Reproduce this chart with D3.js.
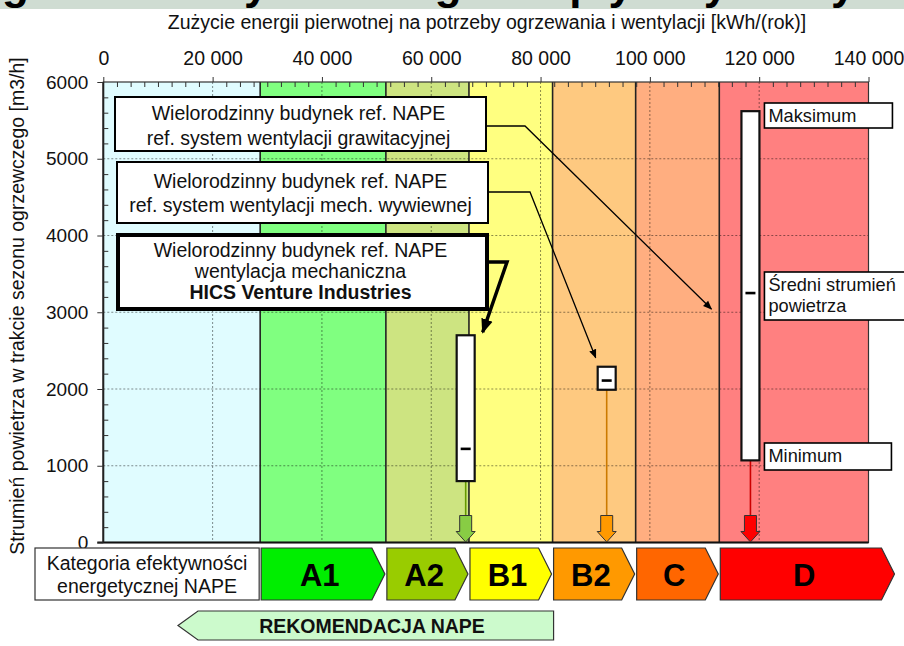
<!DOCTYPE html>
<html>
<head>
<meta charset="utf-8">
<script src="https://cdn.jsdelivr.net/npm/d3@7"></script>
<style>
  body { margin: 0; background: #fff; }
  svg { display: block; font-family: "Liberation Sans", Arial, sans-serif; }
</style>
</head>
<body>
<div class="canvas"></div>
<script>
/////////////////////////////////
//** DATA **//

// energy classes (NAPE) and their upper limits on the kWh/rok axis
const classes = ['A1', 'A2', 'B1', 'B2', 'C', 'D'];
const classLimits = [0, 28700, 51700, 66900, 82200, 97400, 112700, 140000];
const classBand = ['#e0fcff', '#80ff80', '#cde481', '#ffff80', '#fec980', '#ffae80', '#ff8080'];
const classFill = ['#00ee00', '#99cc00', '#ffff00', '#ff9900', '#ff6600', '#ff0000'];

// buildings / ventilation systems
const systems = ['HICS', 'mech. wywiewna', 'grawitacyjna'];
const energy = [66300, 92100, 118400];
const flowMin = [800, 1990, 1070];
const flowMax = [2700, 2290, 5620];
const flowMean = [1220, 2110, 3250];
const stemColor = ['#669900', '#cc7a00', '#cc0000'];
const arrowColor = ['#88cc44', '#ff9900', '#ff0000'];

// axis ticks
const xTicks = [0, 20000, 40000, 60000, 80000, 100000, 120000, 140000];
const yTicks = [0, 1000, 2000, 3000, 4000, 5000, 6000];

/////////////////////////////////
//** SVG **//

const dims = { width: 904, height: 646 };
const plot = { left: 103.3, right: 868.5, top: 82, bottom: 542.5 };
const fs = 19.5; // base font size

const svg = d3.select('.canvas')
  .append('svg')
  .attr('width', dims.width)
  .attr('height', dims.height);

const defs = svg.append('defs');
['thin', 'thick'].forEach(k => {
  defs.append('marker')
    .attr('id', 'head-' + k)
    .attr('viewBox', '0 0 10 10')
    .attr('refX', 9).attr('refY', 5)
    .attr('markerWidth', k == 'thin' ? 7 : 4.2)
    .attr('markerHeight', k == 'thin' ? 7 : 4.2)
    .attr('markerUnits', 'strokeWidth')
    .attr('orient', 'auto')
    .append('path')
    .attr('d', 'M0,1 L10,5 L0,9 Z')
    .attr('fill', '#000');
});

const x = d3.scaleLinear().domain([0, 140000]).range([plot.left, plot.right]);
const y = d3.scaleLinear().domain([0, 6000]).range([plot.bottom, plot.top]);

const fmt = d3.formatLocale({ decimal: ',', thousands: ' ', grouping: [3], currency: ['', ''] }).format(',');

// top banner (cut-off slide title)
svg.append('rect')
  .attr('x', 0).attr('y', 0).attr('width', dims.width).attr('height', 9)
  .attr('fill', '#cfdcd2');
defs.append('clipPath').attr('id', 'banner')
  .append('rect').attr('x', 0).attr('y', 0).attr('width', dims.width).attr('height', 9);
svg.append('text')
  .attr('clip-path', 'url(#banner)')
  .attr('x', 2).attr('y', -1)
  .attr('font-size', 44).attr('font-weight', 'bold')
  .text('gazowe zużycie energii – wpływ systemy wentylacji');

// colour bands
const bands = svg.append('g');
bands.selectAll('rect')
  .data(classBand)
  .enter().append('rect')
  .attr('x', (d, i) => x(classLimits[i]))
  .attr('y', y(6000))
  .attr('width', (d, i) => x(classLimits[i + 1]) - x(classLimits[i]))
  .attr('height', y(0) - y(6000))
  .attr('fill', d => d);

// dotted grid
const grid = svg.append('g')
  .attr('stroke', '#000').attr('stroke-opacity', 0.45)
  .attr('stroke-width', 1).attr('stroke-dasharray', '2,2');
grid.selectAll('.gx')
  .data(xTicks.slice(1, -1))
  .enter().append('line')
  .attr('x1', d => x(d)).attr('x2', d => x(d))
  .attr('y1', y(6000)).attr('y2', y(0));
grid.selectAll('.gy')
  .data(yTicks.slice(1, -1))
  .enter().append('line')
  .attr('x1', x(0)).attr('x2', x(140000))
  .attr('y1', d => y(d)).attr('y2', d => y(d));

// class boundaries
svg.append('g')
  .selectAll('line')
  .data(classLimits.slice(1, -1))
  .enter().append('line')
  .attr('x1', d => x(d)).attr('x2', d => x(d))
  .attr('y1', y(6000)).attr('y2', y(0))
  .attr('stroke', '#222').attr('stroke-width', 1.6);

// frame
svg.append('rect')
  .attr('x', x(0)).attr('y', y(6000))
  .attr('width', x(140000) - x(0)).attr('height', y(0) - y(6000))
  .attr('fill', 'none').attr('stroke', '#333').attr('stroke-width', 1.2);
svg.append('line')
  .attr('x1', x(0) - 6).attr('x2', x(140000))
  .attr('y1', y(0)).attr('y2', y(0))
  .attr('stroke', '#111').attr('stroke-width', 2.2);
svg.append('line')
  .attr('x1', x(0)).attr('x2', x(0))
  .attr('y1', y(6000)).attr('y2', y(0))
  .attr('stroke', '#222').attr('stroke-width', 2);

/////////////////////////////////
//** AXES **//

const styleAxis = g => {
  g.select('.domain').remove();
  g.selectAll('line').attr('stroke', '#333');
  g.selectAll('text').attr('font-size', fs).attr('fill', '#111')
    .attr('font-family', '"Liberation Sans", Arial, sans-serif');
};

svg.append('g')
  .attr('transform', `translate(0, ${plot.top})`)
  .call(d3.axisTop(x).tickValues(xTicks).tickSize(5).tickPadding(12).tickFormat(fmt))
  .call(styleAxis);
svg.append('g')
  .attr('transform', `translate(0, ${plot.top})`)
  .call(d3.axisTop(x).tickValues(d3.range(0, 140001, 2500).filter(v => v % 20000)).tickSize(-5).tickFormat(''))
  .call(styleAxis);

svg.append('g')
  .attr('transform', `translate(${plot.left}, 0)`)
  .call(d3.axisLeft(y).tickValues(yTicks).tickSize(6).tickPadding(9).tickFormat(d3.format('d')))
  .call(styleAxis)
  .call(g => g.selectAll('text').attr('font-size', 19));
svg.append('g')
  .attr('transform', `translate(${plot.left}, 0)`)
  .call(d3.axisLeft(y).tickValues(d3.range(0, 6001, 200).filter(v => v % 1000)).tickSize(-5).tickFormat(''))
  .call(styleAxis);

// axis titles
svg.append('text')
  .attr('x', 487).attr('y', 29)
  .attr('text-anchor', 'middle').attr('font-size', fs).attr('fill', '#111')
  .text('Zużycie energii pierwotnej na potrzeby ogrzewania i wentylacji [kWh/(rok)]');
svg.append('text')
  .attr('transform', 'translate(24, 306) rotate(-90)')
  .attr('text-anchor', 'middle').attr('font-size', fs).attr('fill', '#111')
  .text('Strumień powietrza w trakcie sezonu ogrzewczego [m3/h]');

/////////////////////////////////
//** MARKERS **//

const marks = svg.append('g');
const barW = [18, 18, 18];

// stems + block arrows
systems.forEach((s, i) => {
  const cx = x(energy[i]);
  marks.append('line')
    .attr('x1', cx).attr('x2', cx)
    .attr('y1', y(flowMin[i])).attr('y2', y(0) - 27)
    .attr('stroke', stemColor[i]).attr('stroke-width', 1.6);
  const t = y(0) - 27, m = y(0) - 11, b = y(0) - 0.5;
  marks.append('path')
    .attr('d', `M${cx - 6},${t} L${cx + 6},${t} L${cx + 6},${m} L${cx + 9.5},${m} L${cx},${b} L${cx - 9.5},${m} L${cx - 6},${m} Z`)
    .attr('fill', arrowColor[i]).attr('stroke', '#333').attr('stroke-width', 1);
});

// min-max boxes
marks.selectAll('.box')
  .data(systems)
  .enter().append('rect')
  .attr('x', (d, i) => x(energy[i]) - barW[i] / 2)
  .attr('y', (d, i) => y(flowMax[i]))
  .attr('width', (d, i) => barW[i])
  .attr('height', (d, i) => y(flowMin[i]) - y(flowMax[i]))
  .attr('fill', '#fff').attr('stroke', '#111').attr('stroke-width', 2.2);

// mean
marks.selectAll('.mean')
  .data(systems)
  .enter().append('line')
  .attr('x1', (d, i) => x(energy[i]) - 5).attr('x2', (d, i) => x(energy[i]) + 5)
  .attr('y1', (d, i) => y(flowMean[i])).attr('y2', (d, i) => y(flowMean[i]))
  .attr('stroke', '#000').attr('stroke-width', 2.6);

/////////////////////////////////
//** CALLOUTS **//

const callouts = [
  { x: 115, y: 97, w: 371, h: 54, sw: 2, lines: ['Wielorodzinny budynek ref. NAPE', 'ref. system wentylacji grawitacyjnej'], ly: [113, 138] },
  { x: 117, y: 162, w: 371, h: 61, sw: 2, lines: ['Wielorodzinny budynek ref. NAPE', 'ref. system wentylacji mech. wywiewnej'], ly: [181, 205] },
  { x: 118, y: 235, w: 369, h: 74, sw: 4, lines: ['Wielorodzinny budynek ref. NAPE', 'wentylacja mechaniczna', 'HICS Venture Industries'], ly: [250, 271, 292] }
];

callouts.forEach(c => {
  svg.append('rect')
    .attr('x', c.x).attr('y', c.y).attr('width', c.w).attr('height', c.h)
    .attr('fill', '#fff').attr('stroke', '#000').attr('stroke-width', c.sw);
  c.lines.forEach((l, j) => {
    svg.append('text')
      .attr('x', c.x + c.w / 2 - 2).attr('y', c.ly[j]).attr('dy', '0.35em')
      .attr('text-anchor', 'middle').attr('font-size', fs).attr('fill', '#111')
      .attr('font-weight', j == 2 ? 'bold' : 'normal')
      .text(l);
  });
});

// leader lines (point at the box of each system)
const leader = d3.line();
svg.append('path')
  .attr('d', leader([[486, 126], [525, 126], [x(energy[2]) - 39, y(flowMean[2]) + 16]]))
  .attr('fill', 'none').attr('stroke', '#000').attr('stroke-width', 1.3)
  .attr('marker-end', 'url(#head-thin)');
svg.append('path')
  .attr('d', leader([[488, 192], [530, 192], [x(energy[1]) - 11, y(flowMax[1]) - 9]]))
  .attr('fill', 'none').attr('stroke', '#000').attr('stroke-width', 1.3)
  .attr('marker-end', 'url(#head-thin)');
svg.append('path')
  .attr('d', leader([[488, 262], [507, 262], [x(energy[0]) + 17, y(flowMax[0]) - 3]]))
  .attr('fill', 'none').attr('stroke', '#000').attr('stroke-width', 3.5)
  .attr('stroke-linejoin', 'miter')
  .attr('marker-end', 'url(#head-thick)');

// legend boxes next to the D bar
const keyBoxes = [
  { y: 103, h: 25, w: 128, lines: ['Maksimum'] },
  { y: 272, h: 48, w: 145, lines: ['Średni strumień', 'powietrza'] },
  { y: 443, h: 27, w: 127, lines: ['Minimum'] }
];
keyBoxes.forEach(k => {
  const kx = x(energy[2]) + 14;
  svg.append('rect')
    .attr('x', kx).attr('y', k.y).attr('width', k.w).attr('height', k.h)
    .attr('fill', '#fff').attr('stroke', '#000').attr('stroke-width', 1.6);
  k.lines.forEach((l, j) => {
    svg.append('text')
      .attr('x', kx + 4).attr('y', k.y + 13 + j * 21).attr('dy', '0.35em')
      .attr('font-size', 18.2).attr('fill', '#111')
      .text(l);
  });
});

/////////////////////////////////
//** CLASS ARROWS **//

const ay0 = 548, ay1 = 600, tip = 13;
svg.append('rect')
  .attr('x', 35).attr('y', ay0).attr('width', x(classLimits[1]) - 1 - 35).attr('height', ay1 - ay0)
  .attr('fill', '#fff').attr('stroke', '#333').attr('stroke-width', 1.2);
svg.append('text')
  .attr('x', 147).attr('y', 563).attr('dy', '0.35em')
  .attr('text-anchor', 'middle').attr('font-size', fs).attr('fill', '#111')
  .text('Kategoria efektywności');
svg.append('text')
  .attr('x', 147).attr('y', 586).attr('dy', '0.35em')
  .attr('text-anchor', 'middle').attr('font-size', fs).attr('fill', '#111')
  .text('energetycznej NAPE');

const arrows = svg.append('g');
classes.forEach((c, i) => {
  const x0 = x(classLimits[i + 1]) + 1;
  const x1 = i == classes.length - 1 ? x(classLimits[i + 2]) + 26 : x(classLimits[i + 2]) - 1;
  const ym = (ay0 + ay1) / 2;
  arrows.append('path')
    .attr('d', `M${x0},${ay0} L${x1 - tip},${ay0} L${x1},${ym} L${x1 - tip},${ay1} L${x0},${ay1} Z`)
    .attr('fill', classFill[i]).attr('stroke', '#333').attr('stroke-width', 1.2);
  arrows.append('text')
    .attr('x', (x0 + x1 - tip / 2) / 2).attr('y', ym + 1).attr('dy', '0.36em')
    .attr('text-anchor', 'middle').attr('font-size', 31).attr('font-weight', 'bold').attr('fill', '#000')
    .text(c);
});

// recommendation arrow (classes A1..B1)
const rx1 = x(classLimits[4]) + 1, rx0 = 178, ry0 = 611, ry1 = 640;
svg.append('path')
  .attr('d', `M${rx0},${(ry0 + ry1) / 2} L${rx0 + 20},${ry0} L${rx1},${ry0} L${rx1},${ry1} L${rx0 + 20},${ry1} Z`)
  .attr('fill', '#ccfacc').attr('stroke', '#333').attr('stroke-width', 1.2);
svg.append('text')
  .attr('x', 372).attr('y', (ry0 + ry1) / 2 + 1).attr('dy', '0.35em')
  .attr('text-anchor', 'middle').attr('font-size', fs).attr('font-weight', 'bold').attr('fill', '#111')
  .text('REKOMENDACJA NAPE');
</script>
</body>
</html>
